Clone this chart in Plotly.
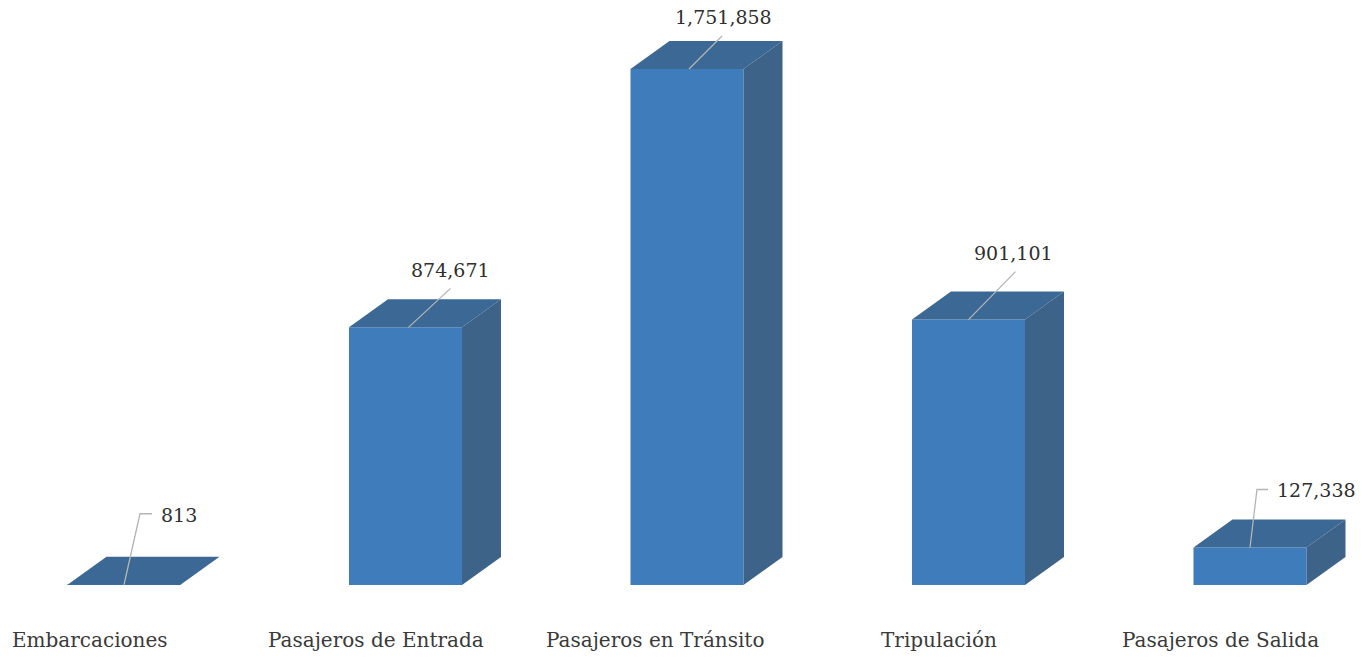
import plotly.graph_objects as go

categories = ["Embarcaciones", "Pasajeros de Entrada", "Pasajeros en Tránsito", "Tripulación", "Pasajeros de Salida"]
values = [813, 874671, 1751858, 901101, 127338]
value_labels = ["813", "874,671", "1,751,858", "901,101", "127,338"]

W, H = 1361, 660
PX_PER_CAT = 281.5
X0_PX = 124
BASE_PX = 585
PX_PER_UNIT = 516 / 1751858
BAR_W = 113 / PX_PER_CAT
DX, DY = 39 / PX_PER_CAT, 28 / PX_PER_UNIT
FRONT, TOP, SIDE = "#3f7cbc", "#3b6894", "#3e6389"
xr = [-X0_PX / PX_PER_CAT, (W - X0_PX) / PX_PER_CAT]
yr = [-(H - BASE_PX) / PX_PER_UNIT, BASE_PX / PX_PER_UNIT]

# label offsets relative to bar centre / top, in pixels (style only)
label_off = [(55, 70), (45, 57), (36, 52), (45, 67), (66, 57)]
cat_off = [-34, -30, -32, -30, -29.5]
# leader polyline offsets, in pixels, relative to bar top centre
leaders = [
    [(0, 0), (16, 71), (28, 71)],
    [(3, 0), (45, 39)],
    [(2, 0), (35, 33)],
    [(0, 0), (47, 48)],
    [(0, 0), (7, 58), (18, 58)],
]

fig = go.Figure()
xs = list(range(len(values)))
fig.add_trace(go.Bar(x=xs, y=values, width=BAR_W, marker=dict(color=FRONT, line=dict(width=0)), hoverinfo="skip"))
for i, v in enumerate(values):
    l, r = i - BAR_W / 2, i + BAR_W / 2
    fig.add_trace(go.Scatter(x=[l, r, r + DX, l + DX, l], y=[v, v, v + DY, v + DY, v], fill="toself",
                             fillcolor=TOP, mode="lines", line=dict(width=0), hoverinfo="skip"))
    if v > 2000:
        fig.add_trace(go.Scatter(x=[r, r + DX, r + DX, r, r], y=[0, DY, v + DY, v, 0], fill="toself",
                                 fillcolor=SIDE, mode="lines", line=dict(width=0), hoverinfo="skip"))
    fig.add_trace(go.Scatter(x=[i + p[0] / PX_PER_CAT for p in leaders[i]],
                             y=[v + p[1] / PX_PER_UNIT for p in leaders[i]],
                             mode="lines", line=dict(color="#b4b4b4", width=1.3), hoverinfo="skip"))
    fig.add_annotation(x=i, y=v, xref="x", yref="y", text=value_labels[i], showarrow=False,
                       xshift=label_off[i][0], yshift=label_off[i][1],
                       font=dict(family="DejaVu Serif", size=19, color="#2f2f2f"))
    fig.add_annotation(x=i, y=0, xref="x", yref="y", text=categories[i], showarrow=False,
                       xshift=cat_off[i], yshift=-55,
                       font=dict(family="DejaVu Serif", size=20, color="#3a3a3a"))

fig.update_layout(width=W, height=H, margin=dict(l=0, r=0, t=0, b=0), autosize=False,
                  plot_bgcolor="white", paper_bgcolor="white", showlegend=False,
                  xaxis=dict(range=xr, visible=False), yaxis=dict(range=yr, visible=False))
fig.write_html("out.html", config={"displayModeBar": False},
               post_script="document.body.style.margin='0';document.body.style.overflow='hidden';")
